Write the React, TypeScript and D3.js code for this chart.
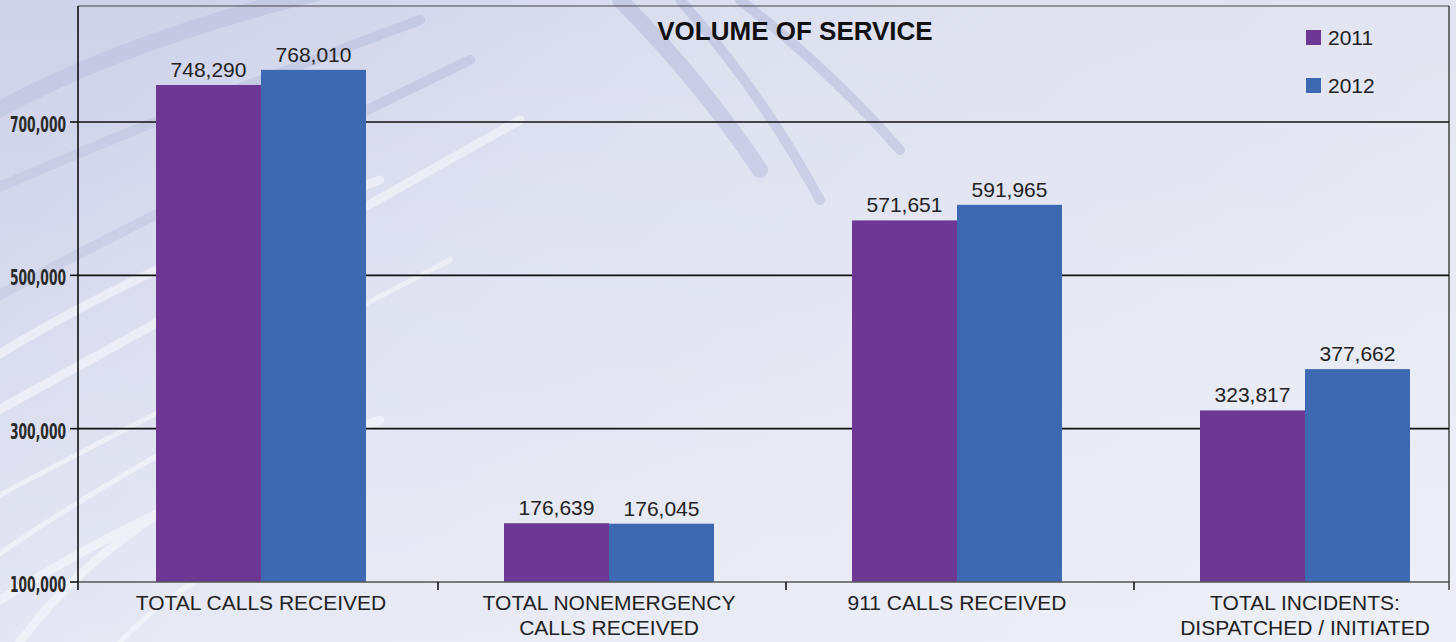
import React from "react";
import * as d3 from "d3";

const categories: string[][] = [
  ["TOTAL CALLS RECEIVED"],
  ["TOTAL NONEMERGENCY", "CALLS RECEIVED"],
  ["911 CALLS RECEIVED"],
  ["TOTAL INCIDENTS:", "DISPATCHED / INITIATED"],
];
const series = ["2011", "2012"];
const values2011 = [748290, 176639, 571651, 323817];
const values2012 = [768010, 176045, 591965, 377662];
const yTicks = [100000, 300000, 500000, 700000];
const title = "VOLUME OF SERVICE";

const W = 1456;
const H = 642;
const colors = ["#6d3794", "#3d69b2"];

export default function App() {
  const left = 78;
  const right = 1449;
  const top = 6;
  const bottom = 582;

  const y = d3.scaleLinear().domain([100000, 851300]).range([bottom, top]);
  const keys = categories.map((c) => c.join(" "));
  const x = d3
    .scaleBand<string>()
    .domain(keys)
    .range([87, 1479])
    .paddingInner(0.3966)
    .paddingOuter(0.1983);
  const xs = d3.scaleBand<string>().domain(series).range([0, x.bandwidth()]);
  const fmt = d3.format(",");
  const data = [values2011, values2012];
  const step = x.step();
  const boundaries = keys.slice(1).map((k) => (x(k) as number) - (step - x.bandwidth()) / 2 + 3);

  // decorative palm fronds (background only)
  const frondsDark = [
    "M -20 120 Q 120 40 330 -10",
    "M -30 200 Q 150 120 420 20",
    "M -10 300 Q 180 200 470 60",
    "M 620 0 Q 700 80 760 170",
    "M 680 0 Q 760 90 820 200",
    "M 740 0 Q 830 70 900 150",
  ];
  const frondsLight = [
    "M -20 420 Q 200 300 520 120",
    "M -10 500 Q 180 400 450 260",
    "M 0 600 Q 160 500 380 420",
    "M -10 560 Q 120 470 300 380",
    "M 20 642 Q 80 560 180 500",
    "M 120 642 Q 200 560 330 520",
    "M -10 360 Q 150 260 380 180",
  ];

  return (
    <svg
      width={W}
      height={H}
      style={{ position: "absolute", left: 0, top: 0, display: "block" }}
      fontFamily="'Liberation Sans', Arial, Helvetica, sans-serif"
    >
      <defs>
        <linearGradient id="bg" x1="0" y1="0.3" x2="1" y2="0.7">
          <stop offset="0" stopColor="#cfd3ea" />
          <stop offset="0.35" stopColor="#dde0f0" />
          <stop offset="1" stopColor="#e6e8f3" />
        </linearGradient>
        <linearGradient id="bg2" x1="0" y1="0" x2="0" y2="1">
          <stop offset="0" stopColor="#ffffff" stopOpacity="0" />
          <stop offset="1" stopColor="#ffffff" stopOpacity="0.3" />
        </linearGradient>
      </defs>
      <rect x={0} y={0} width={W} height={H} fill="url(#bg)" />
      <g fill="none" stroke="#c2c7e2" strokeLinecap="round" opacity={0.85}>
        {frondsDark.map((d, i) => (
          <path key={i} d={d} strokeWidth={i % 3 === 0 ? 16 : 10} />
        ))}
      </g>
      <g fill="none" stroke="#f2f3f9" strokeLinecap="round" opacity={0.7}>
        {frondsLight.map((d, i) => (
          <path key={i} d={d} strokeWidth={i % 2 === 0 ? 9 : 5} />
        ))}
      </g>
      <rect x={0} y={0} width={W} height={H} fill="url(#bg2)" />

      {/* frame */}
      <line x1={left} x2={right} y1={top} y2={top} stroke="#444" strokeWidth={1.2} />
      <line x1={right} x2={right} y1={top} y2={bottom + 8} stroke="#444" strokeWidth={1.5} />

      {/* gridlines */}
      {yTicks.slice(1).map((t) => (
        <line key={t} x1={left} x2={right} y1={y(t)} y2={y(t)} stroke="#111" strokeWidth={1.6} />
      ))}

      {/* bars */}
      {keys.map((k, ci) =>
        series.map((s, si) => {
          const v = data[si][ci];
          const bx = (x(k) as number) + (xs(s) as number);
          return (
            <g key={k + s}>
              <rect
                x={bx}
                y={y(v)}
                width={xs.bandwidth()}
                height={bottom - y(v)}
                fill={colors[si]}
              />
              <text
                x={bx + xs.bandwidth() / 2}
                y={y(v) - 8}
                textAnchor="middle"
                fontSize={21}
                fill="#222"
              >
                {fmt(v)}
              </text>
            </g>
          );
        })
      )}

      {/* x axis */}
      <line x1={left} x2={right} y1={bottom} y2={bottom} stroke="#555" strokeWidth={1.6} />
      {boundaries.map((bx, i) => (
        <line key={i} x1={bx} x2={bx} y1={bottom} y2={bottom + 8} stroke="#111" strokeWidth={1.6} />
      ))}
      {keys.map((k, ci) => (
        <text
          key={k}
          x={(x(k) as number) + x.bandwidth() / 2}
          textAnchor="middle"
          fontSize={21}
          fill="#222"
        >
          {categories[ci].map((line, li) => (
            <tspan key={li} x={(x(k) as number) + x.bandwidth() / 2} y={610 + li * 25}>
              {line}
            </tspan>
          ))}
        </text>
      ))}

      {/* y axis */}
      <line x1={left} x2={left} y1={top} y2={bottom + 8} stroke="#111" strokeWidth={1.6} />
      {yTicks.map((t) => (
        <g key={t}>
          <line x1={left - 8} x2={left} y1={y(t)} y2={y(t)} stroke="#111" strokeWidth={1.6} />
          <text
            x={left - 12}
            y={y(t) + 10}
            textAnchor="end"
            fontSize={21}
            fontWeight="bold"
            fontFamily="'Liberation Sans Narrow', 'DejaVu Sans Condensed', sans-serif"
            textLength={56}
            lengthAdjust="spacingAndGlyphs"
            fill="#2a2a2a"
          >
            {fmt(t)}
          </text>
        </g>
      ))}

      {/* title */}
      <text x={795} y={40} textAnchor="middle" fontSize={26} fontWeight="bold" fill="#111">
        {title}
      </text>

      {/* legend */}
      {series.map((s, i) => (
        <g key={s} transform={`translate(1306, ${30 + i * 48})`}>
          <rect x={0} y={0} width={15} height={15} fill={colors[i]} />
          <text x={22} y={15} fontSize={21} fill="#222">
            {s}
          </text>
        </g>
      ))}
    </svg>
  );
}
